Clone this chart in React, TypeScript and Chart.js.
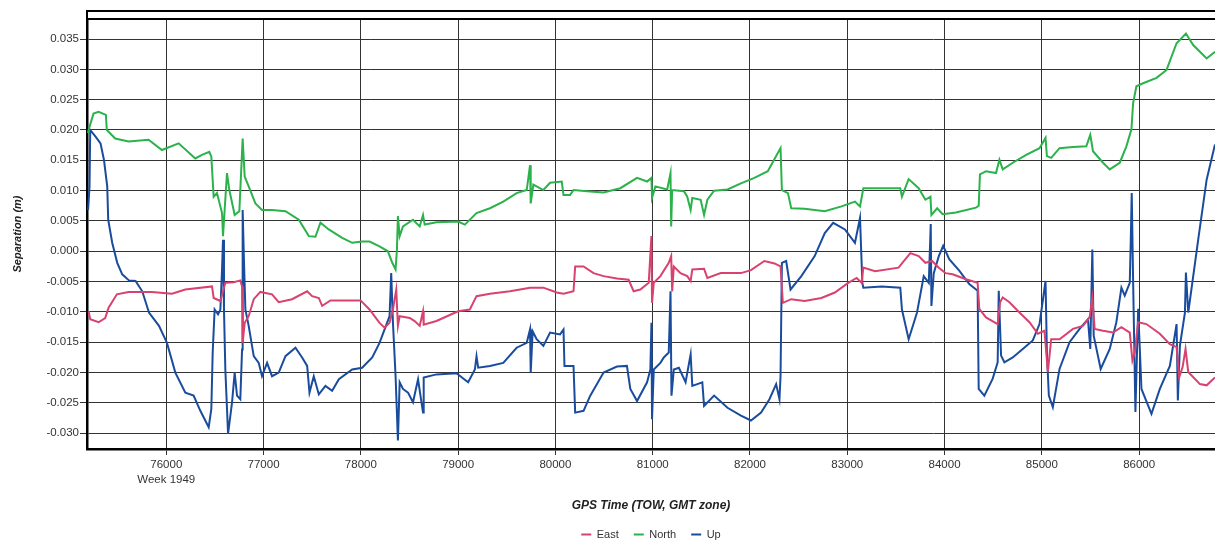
import React, { useEffect, useRef } from 'react';
import { Chart, registerables } from 'chart.js';

Chart.register(...registerables);

// ---- Axis settings ----
const xMin = 75185;
const xMax = 86780;
const yMin = -0.0326;
const yMax = 0.0383;
const xTickValues = [76000, 77000, 78000, 79000, 80000, 81000, 82000, 83000, 84000, 85000, 86000];
const yTickValues = [-0.03, -0.025, -0.02, -0.015, -0.01, -0.005, 0, 0.005, 0.01, 0.015, 0.02, 0.025, 0.03, 0.035];
const weekLabel = 'Week 1949';
const xTitle = 'GPS Time (TOW, GMT zone)';
const yTitle = 'Separation (m)';
const seriesNames = ['East', 'North', 'Up'];
const seriesColors = ['#D8426F', '#2BB24B', '#1A4C9E'];

// ---- Series: [GPS time of week (s), separation (m)] ----
const east: [number, number][] = [
  [75201, -0.0099], [75218, -0.0112], [75304, -0.0117], [75372, -0.011], [75407, -0.0093], [75492, -0.0071],
  [75612, -0.0067], [75852, -0.0067], [76058, -0.007], [76195, -0.0063], [76470, -0.0058], [76487, -0.0077],
  [76556, -0.0082], [76607, -0.0052], [76693, -0.0051], [76761, -0.0048], [76779, -0.0058], [76785, -0.0151],
  [76806, -0.0118], [76847, -0.0107], [76899, -0.0079], [76967, -0.0067], [77087, -0.0071], [77156, -0.0084],
  [77293, -0.0079], [77448, -0.0066], [77499, -0.0074], [77568, -0.0077], [77602, -0.009], [77688, -0.0081],
  [77842, -0.0081], [77997, -0.0081], [78089, -0.0096], [78192, -0.0118], [78244, -0.0126], [78295, -0.0118],
  [78330, -0.0096], [78347, -0.0079], [78364, -0.0063], [78381, -0.0123], [78399, -0.0107], [78502, -0.011],
  [78553, -0.0115], [78605, -0.0123], [78639, -0.0099], [78646, -0.0121], [78777, -0.0115], [79000, -0.0099],
  [79120, -0.0096], [79189, -0.0074], [79327, -0.007], [79533, -0.0066], [79739, -0.006], [79876, -0.006],
  [80014, -0.0068], [80083, -0.007], [80186, -0.0066], [80203, -0.0025], [80289, -0.0025], [80392, -0.0036],
  [80495, -0.0041], [80632, -0.0045], [80753, -0.0047], [80804, -0.0066], [80873, -0.0063], [80959, -0.0052],
  [80987, 0.0025], [80993, -0.0085], [81011, -0.0052], [81079, -0.0041], [81165, -0.0019], [81190, -0.0008],
  [81200, -0.0066], [81217, -0.0025], [81286, -0.0036], [81355, -0.0041], [81390, -0.0049], [81407, -0.003],
  [81528, -0.0029], [81562, -0.0044], [81700, -0.0036], [81907, -0.0036], [82010, -0.0031], [82148, -0.0016],
  [82252, -0.002], [82314, -0.0025], [82338, -0.0085], [82424, -0.0079], [82562, -0.0082], [82734, -0.0077],
  [82872, -0.0068], [83010, -0.0052], [83096, -0.0044], [83148, -0.0052], [83165, -0.0027], [83286, -0.0033],
  [83527, -0.0027], [83648, -0.0003], [83734, -0.0008], [83803, -0.0019], [83872, -0.0016], [83941, -0.0027],
  [84010, -0.0036], [84083, -0.0038], [84220, -0.0046], [84340, -0.0052], [84357, -0.0095], [84426, -0.0109],
  [84546, -0.012], [84571, -0.0084], [84598, -0.0076], [84667, -0.0084], [84770, -0.0101], [84873, -0.0117],
  [84959, -0.0136], [85027, -0.0131], [85062, -0.0199], [85096, -0.0145], [85182, -0.0145], [85320, -0.0128],
  [85423, -0.0123], [85491, -0.0109], [85519, -0.0076], [85543, -0.0128], [85629, -0.0131], [85732, -0.0134],
  [85818, -0.0125], [85904, -0.0134], [85931, -0.018], [85955, -0.0167], [85990, -0.0117], [86075, -0.012],
  [86213, -0.0136], [86316, -0.0153], [86385, -0.0158], [86412, -0.0208], [86447, -0.0191], [86477, -0.0161],
  [86505, -0.0199], [86625, -0.0219], [86694, -0.0221], [86780, -0.0208],
];

const north: [number, number][] = [
  [75195, 0.0195], [75201, 0.02], [75252, 0.0227], [75304, 0.023], [75379, 0.0225], [75389, 0.02],
  [75475, 0.0186], [75612, 0.0181], [75818, 0.0184], [75955, 0.0167], [76127, 0.0178], [76298, 0.0153],
  [76367, 0.0159], [76442, 0.0164], [76463, 0.0156], [76487, 0.009], [76521, 0.0096], [76573, 0.0063],
  [76583, 0.0025], [76600, 0.0068], [76624, 0.0129], [76648, 0.0101], [76703, 0.006], [76751, 0.0066],
  [76785, 0.0186], [76806, 0.0123], [76847, 0.0107], [76916, 0.0079], [76984, 0.0068], [77087, 0.0068],
  [77225, 0.0066], [77362, 0.0052], [77465, 0.0025], [77533, 0.0024], [77585, 0.0047], [77670, 0.0036],
  [77808, 0.0022], [77911, 0.0014], [78013, 0.0016], [78089, 0.0016], [78192, 0.0008], [78278, 0.0],
  [78323, -0.0019], [78357, -0.003], [78371, 0.0003], [78381, 0.0058], [78399, 0.0025], [78433, 0.0041],
  [78536, 0.0052], [78605, 0.0041], [78639, 0.006], [78656, 0.0044], [78777, 0.0048], [79000, 0.0049],
  [79069, 0.0044], [79189, 0.0063], [79327, 0.0071], [79464, 0.0082], [79601, 0.0096], [79705, 0.0101],
  [79739, 0.0142], [79746, 0.0079], [79773, 0.011], [79876, 0.0101], [79945, 0.0113], [80065, 0.0115],
  [80083, 0.0093], [80151, 0.0093], [80186, 0.0101], [80323, 0.0099], [80495, 0.0097], [80667, 0.0104],
  [80839, 0.0121], [80942, 0.0115], [80987, 0.0121], [80993, 0.0088], [81028, 0.0107], [81149, 0.0102],
  [81183, 0.0129], [81190, 0.0041], [81200, 0.0101], [81321, 0.0099], [81355, 0.009], [81390, 0.0068],
  [81407, 0.0088], [81493, 0.0085], [81528, 0.006], [81562, 0.0085], [81631, 0.01], [81769, 0.0102],
  [81907, 0.0112], [82045, 0.0121], [82183, 0.0132], [82286, 0.0162], [82314, 0.017], [82328, 0.0101],
  [82390, 0.0096], [82424, 0.0071], [82562, 0.007], [82769, 0.0066], [82941, 0.0074], [83079, 0.0082],
  [83131, 0.0074], [83165, 0.0104], [83424, 0.0104], [83545, 0.0104], [83562, 0.009], [83631, 0.0119],
  [83734, 0.0104], [83803, 0.0085], [83855, 0.009], [83865, 0.006], [83924, 0.0071], [83980, 0.0061],
  [84117, 0.0064], [84323, 0.0072], [84351, 0.0075], [84364, 0.0127], [84426, 0.0132], [84529, 0.0129],
  [84564, 0.0151], [84598, 0.0135], [84701, 0.0146], [84839, 0.0159], [84976, 0.017], [85038, 0.0187],
  [85052, 0.0157], [85096, 0.0154], [85182, 0.017], [85320, 0.0172], [85457, 0.0173], [85498, 0.0192],
  [85526, 0.0165], [85629, 0.0146], [85698, 0.0135], [85801, 0.0146], [85869, 0.0173], [85921, 0.0201],
  [85938, 0.0244], [85972, 0.0272], [86041, 0.0277], [86179, 0.0286], [86282, 0.0299], [86385, 0.0343],
  [86481, 0.0359], [86556, 0.034], [86694, 0.0318], [86780, 0.0329],
];

const up: [number, number][] = [
  [75196, 0.0068], [75211, 0.0107], [75218, 0.02], [75273, 0.0189], [75324, 0.0178], [75359, 0.0151],
  [75393, 0.0107], [75403, 0.0052], [75444, 0.0014], [75496, -0.0019], [75547, -0.0038], [75616, -0.0048],
  [75684, -0.0049], [75753, -0.0066], [75822, -0.0101], [75925, -0.0123], [76007, -0.0151], [76093, -0.02],
  [76196, -0.0233], [76281, -0.0238], [76350, -0.0263], [76436, -0.029], [76463, -0.026], [76477, -0.0167],
  [76497, -0.0096], [76532, -0.0104], [76556, -0.0096], [76573, -0.003], [76583, 0.0019], [76593, -0.0096],
  [76607, -0.0195], [76635, -0.0301], [76676, -0.0249], [76703, -0.02], [76727, -0.0238], [76761, -0.0244],
  [76779, -0.0162], [76785, 0.0068], [76799, -0.0019], [76813, -0.0096], [76847, -0.0123], [76899, -0.0173],
  [76950, -0.0184], [76984, -0.0206], [77036, -0.0184], [77087, -0.0206], [77156, -0.02], [77225, -0.0173],
  [77328, -0.0159], [77396, -0.0175], [77448, -0.0189], [77472, -0.0233], [77516, -0.0206], [77568, -0.0236],
  [77636, -0.0222], [77705, -0.023], [77774, -0.0211], [77911, -0.0195], [78013, -0.0192], [78117, -0.0175],
  [78192, -0.0151], [78295, -0.0107], [78312, -0.0036], [78330, -0.0118], [78357, -0.0206], [78381, -0.0312],
  [78399, -0.0216], [78433, -0.0227], [78485, -0.0233], [78536, -0.0249], [78588, -0.0211], [78639, -0.0266],
  [78646, -0.0208], [78777, -0.0203], [78983, -0.0201], [79103, -0.0216], [79172, -0.0195], [79189, -0.0173],
  [79206, -0.0192], [79327, -0.0189], [79464, -0.0184], [79601, -0.0159], [79705, -0.0151], [79739, -0.0129],
  [79746, -0.02], [79766, -0.0132], [79807, -0.0145], [79876, -0.0156], [79945, -0.0134], [80048, -0.0137],
  [80083, -0.0129], [80093, -0.0189], [80186, -0.0189], [80203, -0.0266], [80289, -0.0263], [80358, -0.0238],
  [80495, -0.02], [80632, -0.019], [80735, -0.0189], [80770, -0.0227], [80839, -0.0247], [80942, -0.0216],
  [80976, -0.0195], [80987, -0.0118], [80993, -0.0277], [81011, -0.0195], [81079, -0.0184], [81114, -0.0175],
  [81165, -0.0167], [81183, -0.0066], [81193, -0.0238], [81217, -0.0195], [81269, -0.0192], [81338, -0.0216],
  [81390, -0.017], [81407, -0.0222], [81510, -0.0216], [81528, -0.0255], [81631, -0.0238], [81769, -0.0258],
  [81907, -0.0271], [82010, -0.0279], [82114, -0.0266], [82200, -0.0244], [82269, -0.0219], [82303, -0.0244],
  [82314, -0.0206], [82328, -0.0019], [82372, -0.0016], [82417, -0.0063], [82528, -0.0041], [82665, -0.0008],
  [82769, 0.003], [82855, 0.0047], [82976, 0.0036], [83079, 0.0014], [83131, 0.0055], [83155, -0.0052],
  [83165, -0.006], [83355, -0.0058], [83545, -0.006], [83562, -0.0096], [83631, -0.0145], [83717, -0.0101],
  [83786, -0.0041], [83838, -0.0052], [83858, 0.0045], [83865, -0.009], [83889, -0.0036], [83941, -0.0008],
  [83986, 0.0009], [84048, -0.0013], [84151, -0.0032], [84254, -0.0054], [84340, -0.0065], [84351, -0.0227],
  [84409, -0.0238], [84495, -0.021], [84546, -0.0183], [84557, -0.0065], [84581, -0.0172], [84615, -0.0183],
  [84701, -0.0175], [84804, -0.0161], [84907, -0.0147], [84976, -0.012], [85038, -0.0049], [85052, -0.0167],
  [85072, -0.0238], [85113, -0.0257], [85182, -0.0194], [85285, -0.015], [85388, -0.0128], [85474, -0.0112],
  [85498, -0.0161], [85519, 0.0003], [85533, -0.0139], [85605, -0.0194], [85698, -0.0161], [85766, -0.0117],
  [85818, -0.006], [85852, -0.0073], [85904, -0.0052], [85914, 0.0017], [85924, 0.0096], [85938, -0.0046],
  [85962, -0.0265], [85990, -0.0095], [86024, -0.0227], [86127, -0.0268], [86213, -0.0227], [86316, -0.0189],
  [86385, -0.012], [86398, -0.0246], [86419, -0.0156], [86471, -0.0101], [86481, -0.0035], [86505, -0.0101],
  [86608, 0.002], [86694, 0.0118], [86780, 0.0176],
];

const seriesData = [east, north, up];

const FONT = "'Liberation Sans', Arial, sans-serif";

const framePlugin = {
  id: 'topFrame',
  afterDraw(chart: any) {
    const { ctx, chartArea } = chart;
    const { left, right, top } = chartArea;
    ctx.save();
    ctx.strokeStyle = '#000';
    ctx.lineWidth = 2;
    ctx.beginPath();
    ctx.moveTo(left - 1, top - 8);
    ctx.lineTo(right, top - 8);
    ctx.moveTo(left, top);
    ctx.lineTo(right, top);
    ctx.moveTo(left, top - 9);
    ctx.lineTo(left, top);
    ctx.stroke();
    ctx.restore();
  },
};

export default function App() {
  const canvasRef = useRef<HTMLCanvasElement | null>(null);

  useEffect(() => {
    if (!canvasRef.current) return;
    Chart.defaults.font.family = FONT;
    const chart = new Chart(canvasRef.current, {
      type: 'line',
      data: {
        datasets: seriesNames.map((name, i) => ({
          label: name,
          data: seriesData[i].map(([x, y]) => ({ x, y })),
          borderColor: seriesColors[i],
          backgroundColor: seriesColors[i],
          borderWidth: 2,
          pointRadius: 0,
          tension: 0,
          fill: false,
        })),
      },
      plugins: [framePlugin],
      options: {
        animation: false,
        responsive: false,
        devicePixelRatio: 1,
        parsing: false as any,
        layout: { padding: { top: 19, left: 0, right: 0, bottom: 0 } },
        plugins: {
          tooltip: { enabled: false },
          title: { display: false },
          legend: {
            display: true,
            position: 'bottom',
            fullSize: false,
            labels: {
              usePointStyle: true,
              pointStyle: 'line',
              pointStyleWidth: 10,
              boxWidth: 10,
              padding: 15,
              color: '#333',
              font: { size: 11, family: FONT },
            },
          },
        },
        scales: {
          x: {
            type: 'linear',
            min: xMin,
            max: xMax,
            afterBuildTicks: (scale: any) => {
              scale.ticks = xTickValues.map((value) => ({ value }));
            },
            afterFit: (scale: any) => {
              scale.height = 65;
            },
            ticks: {
              color: '#333',
              padding: 2,
              autoSkip: false,
              maxRotation: 0,
              font: { size: 11.5, family: FONT, lineHeight: 1.3 },
              callback: (value: any) => (value === xTickValues[0] ? [String(value), weekLabel] : String(value)),
            },
            grid: { color: '#333', lineWidth: 1, tickLength: 6, drawTicks: true },
            border: { display: true, color: '#000', width: 2.5 },
            title: {
              display: true,
              text: xTitle,
              color: '#222',
              font: { size: 12, weight: 'bold', style: 'italic', family: FONT },
              padding: { top: 0, bottom: 1 },
            },
          },
          y: {
            type: 'linear',
            min: yMin,
            max: yMax,
            afterBuildTicks: (scale: any) => {
              scale.ticks = yTickValues.map((value) => ({ value }));
            },
            afterFit: (scale: any) => {
              scale.width = 87;
            },
            ticks: {
              color: '#333',
              padding: 1,
              font: { size: 11.5, family: FONT },
              callback: (value: any) => Number(value).toFixed(3),
            },
            grid: { color: '#333', lineWidth: 1, tickLength: 7 },
            border: { display: true, color: '#000', width: 2.5 },
            title: {
              display: true,
              text: yTitle,
              color: '#222',
              font: { size: 11, weight: 'bold', style: 'italic', family: FONT },
              padding: { top: 11, bottom: 0 },
            },
          },
        },
      } as any,
    });
    return () => chart.destroy();
  }, []);

  return (
    <div
      style={{
        position: 'fixed',
        left: 0,
        top: 0,
        width: 1215,
        height: 542,
        overflow: 'hidden',
        background: '#fff',
      }}
    >
      <canvas ref={canvasRef} width={1215} height={550} style={{ display: 'block' }} />
    </div>
  );
}
